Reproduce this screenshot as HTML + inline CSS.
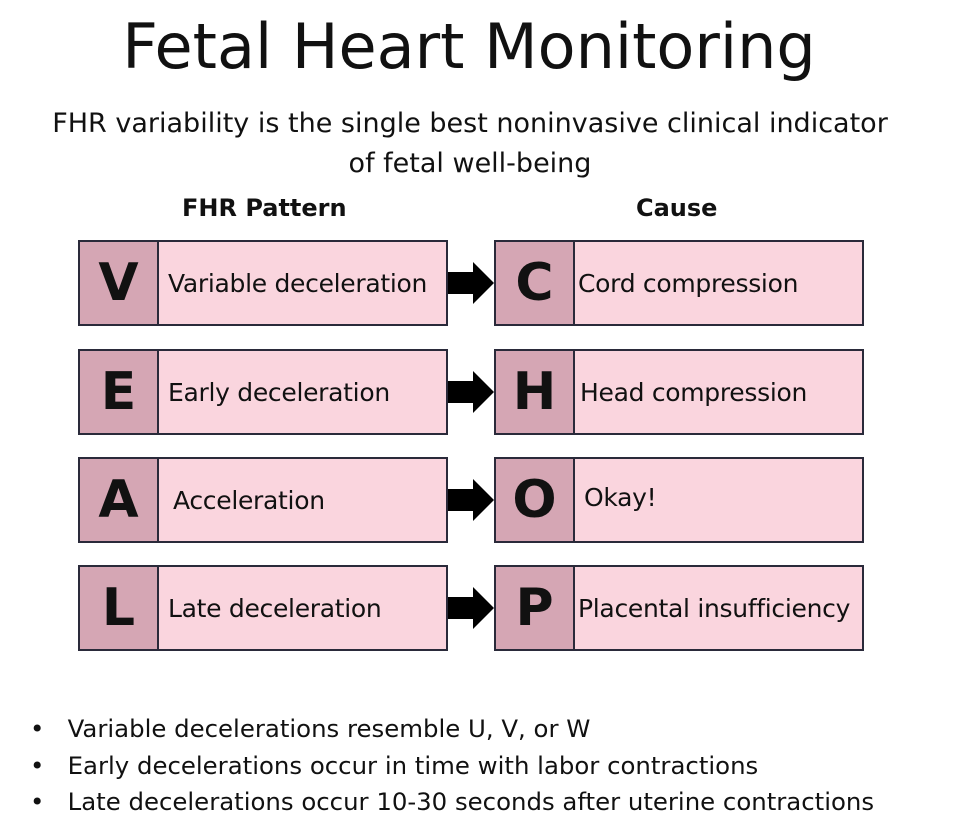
<!DOCTYPE html><html><head><style>
body{margin:0;width:971px;height:824px;background:#fff;font-family:"DejaVu Sans","Liberation Sans",sans-serif;color:#111;position:relative;overflow:hidden}
.a{position:absolute;white-space:nowrap}
.box{position:absolute;width:366px;height:82px;border:2px solid #2a2a3a;background:#fad5de;display:flex;align-items:center}
.l{width:77px;height:100%;background:#d5a6b4;border-right:2px solid #2a2a3a;display:flex;align-items:center;justify-content:center;font-weight:bold;font-size:52px;flex:none}
.t{font-size:25px;padding-left:9px;letter-spacing:-0.3px}
</style></head><body>
<div class="a" style="left:0;width:938px;text-align:center;top:10px;font-size:62px">Fetal Heart Monitoring</div>
<div class="a" style="left:0;width:940px;text-align:center;top:104px;font-size:27px;line-height:40px;white-space:normal">FHR variability is the single best noninvasive clinical indicator<br>of fetal well-being</div>
<div class="a" style="left:182px;top:194px;font-size:24px;font-weight:bold">FHR Pattern</div>
<div class="a" style="left:636px;top:194px;font-size:24px;font-weight:bold">Cause</div>

<div class="box" style="left:78px;top:240px"><div class="l">V</div><div class="t">Variable deceleration</div></div>
<div class="box" style="left:494px;top:240px"><div class="l">C</div><div class="t" style="padding-left:3px">Cord compression</div></div>
<div class="box" style="left:78px;top:349px"><div class="l">E</div><div class="t">Early deceleration</div></div>
<div class="box" style="left:494px;top:349px"><div class="l">H</div><div class="t" style="padding-left:5px">Head compression</div></div>
<div class="box" style="left:78px;top:457px"><div class="l">A</div><div class="t" style="padding-left:14px">Acceleration</div></div>
<div class="box" style="left:494px;top:457px"><div class="l">O</div><div class="t" style="padding-left:9px;margin-top:-6px">Okay!</div></div>
<div class="box" style="left:78px;top:565px"><div class="l">L</div><div class="t">Late deceleration</div></div>
<div class="box" style="left:494px;top:565px"><div class="l">P</div><div class="t" style="padding-left:3px">Placental insufficiency</div></div>

<svg class="a" style="left:0;top:0" width="971" height="824">
<g fill="#000">
<polygon points="448,272 473,272 473,262 494,283 473,304 473,294 448,294"/>
<polygon points="448,381 473,381 473,371 494,392 473,413 473,403 448,403"/>
<polygon points="448,489 473,489 473,479 494,500 473,521 473,511 448,511"/>
<polygon points="448,597 473,597 473,587 494,608 473,629 473,619 448,619"/>
</g></svg>

<div class="a" style="left:30px;top:711px;font-size:24.4px;line-height:36.5px">
<div>•&nbsp;&nbsp;&nbsp;Variable decelerations resemble U, V, or W</div>
<div>•&nbsp;&nbsp;&nbsp;Early decelerations occur in time with labor contractions</div>
<div>•&nbsp;&nbsp;&nbsp;Late decelerations occur 10-30 seconds after uterine contractions</div>
</div>
</body></html>
